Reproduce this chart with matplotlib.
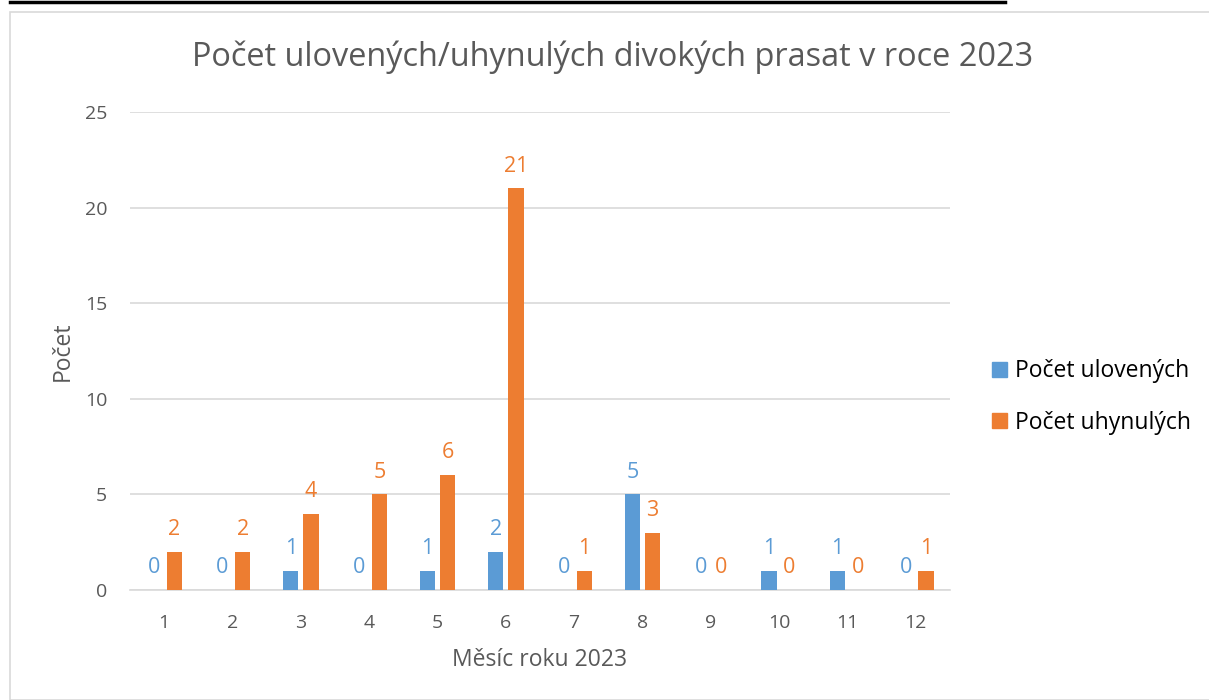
import matplotlib
matplotlib.use("Agg")
import matplotlib.pyplot as plt
import numpy as np
from matplotlib.patches import Rectangle
from matplotlib.lines import Line2D

months = ["1", "2", "3", "4", "5", "6", "7", "8", "9", "10", "11", "12"]
ulovenych = [0, 0, 1, 0, 1, 2, 0, 5, 0, 1, 1, 0]
uhynulych = [2, 2, 4, 5, 6, 21, 1, 3, 0, 0, 0, 1]
yticks = [0, 5, 10, 15, 20, 25]

plt.rcParams['font.family'] = ['Open Sans', 'DejaVu Sans']
TXT = "#595959"
BLUE = "#5b9bd5"
ORANGE = "#ed7d31"
GRID = "#d9d9d9"

fig = plt.figure(figsize=(12.09, 7.0), dpi=100)
W, H = 1209, 700

# chart border and top document line
fig.add_artist(Rectangle((10 / W, 0), 1.2, 1 - 12 / H, transform=fig.transFigure,
                         fill=False, edgecolor="#d9d9d9", linewidth=1.2))
fig.add_artist(Line2D([10 / W, 1005 / W], [1 - 2 / H, 1 - 2 / H], transform=fig.transFigure,
                      color="black", linewidth=2.5))

ax = fig.add_axes([130 / W, 110 / H, 820 / W, 478 / H])
x = np.arange(len(months))
w = 0.225
off = 0.148
b1 = ax.bar(x - off, ulovenych, w, color=BLUE, zorder=3)
b2 = ax.bar(x + off, uhynulych, w, color=ORANGE, zorder=3)
for rect, v in zip(b1, ulovenych):
    ax.annotate(str(v), (rect.get_x() + rect.get_width() / 2, v), xytext=(0, 8.5),
                textcoords="offset points", ha="center", va="bottom", color=BLUE, fontsize=15.5)
for rect, v in zip(b2, uhynulych):
    ax.annotate(str(v), (rect.get_x() + rect.get_width() / 2, v), xytext=(0, 8.5),
                textcoords="offset points", ha="center", va="bottom", color=ORANGE, fontsize=15.5)

ax.set_xlim(-0.5, 11.5)
ax.set_ylim(0, 25)
ax.set_yticks(yticks)
ax.set_xticks(x)
ax.set_xticklabels(months)
ax.tick_params(axis="both", length=0, labelsize=14, colors=TXT)
ax.tick_params(axis="y", pad=16.5)
ax.tick_params(axis="x", pad=17)
ax.grid(axis="y", color=GRID, linewidth=1.2, zorder=0)
for s in ["top", "right", "left"]:
    ax.spines[s].set_visible(False)
ax.spines["bottom"].set_color(GRID)
ax.spines["bottom"].set_linewidth(1.2)
ax.set_xlabel("Měsíc roku 2023", fontsize=16.5, color=TXT, labelpad=12)
ax.set_ylabel("Počet", fontsize=16.5, color=TXT, labelpad=7)

fig.text(613 / W, 1 - 57 / H, "Počet ulovených/uhynulých divokých prasat v roce 2023",
         ha="center", va="center", fontsize=23.4, color=TXT)

handles = [Rectangle((0, 0), 1, 1, color=BLUE), Rectangle((0, 0), 1, 1, color=ORANGE)]
leg = fig.legend(handles, ["Počet ulovených", "Počet uhynulých"], loc="center left",
                 bbox_to_anchor=(971 / W, 1 - 397 / H), frameon=False, fontsize=16.5,
                 handlelength=0.65, handleheight=0.65, handletextpad=0.35, labelspacing=1.2)
for t in leg.get_texts():
    t.set_color("black")

fig.savefig("out.png", dpi=100)
